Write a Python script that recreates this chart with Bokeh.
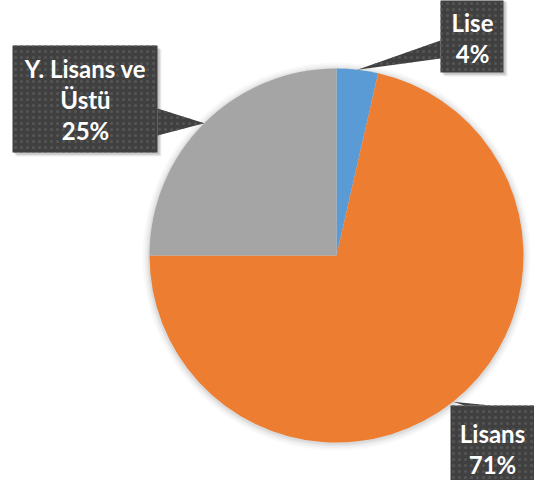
import math
import textwrap
from bokeh.plotting import figure
from bokeh.models import Range1d, ColumnDataSource
from bokeh.core.properties import value
from bokeh.embed import file_html
from bokeh.resources import INLINE

# ---- data ----
categories = ["Lise", "Lisans", "Y. Lisans ve Üstü"]
counts = [1, 20, 7]
colors = ["#5B9BD5", "#ED7D31", "#A5A5A5"]

# ---- layout (pixels of the picture) ----
W, H = 534, 480
CX, CY, R = 336, 255, 187
# label boxes: left, right, top, bottom, text center x, first line y, pointer base
boxes = {
    "Lise": dict(l=440, r=503, t=-2, b=72, tx=472, ty=22,
                 base=[(440, 40), (440, 58)]),
    "Lisans": dict(l=450, r=540, t=405, b=481, tx=492, ty=433,
                   base=[(464, 405), (490, 405)]),
    "Y. Lisans ve Üstü": dict(l=12, r=157, t=45, b=152, tx=85, ty=68,
                              base=[(157, 108), (157, 135)]),
}
LINE_H = 31


def Y(sy):
    return H - sy


p = figure(width=W, height=H, output_backend="svg", toolbar_location=None,
           x_range=Range1d(0, W), y_range=Range1d(0, H),
           min_border=0, outline_line_color=None)
p.axis.visible = False
p.grid.visible = False
p.background_fill_color = "white"
p.border_fill_color = "white"

total = sum(counts)
cum = 0.0
starts, ends, mids = [], [], []
for c in counts:
    c0 = cum / total
    cum += c
    c1 = cum / total
    starts.append(math.pi / 2 - 2 * math.pi * c1)
    ends.append(math.pi / 2 - 2 * math.pi * c0)
    mids.append(math.pi / 2 - 2 * math.pi * (c0 + c1) / 2)

# soft pie shadow
for k, a in [(7, 0.025), (5, 0.03), (3, 0.04), (1.5, 0.05)]:
    p.circle(x=CX, y=Y(CY) - 1, radius=R + k, fill_color="black",
             fill_alpha=a, line_color=None)

src = ColumnDataSource(dict(start=starts, end=ends, color=colors, cat=categories))
p.wedge(x=CX, y=Y(CY), radius=R, start_angle="start", end_angle="end",
        direction="anticlock", fill_color="color", line_color=None, source=src)

for cat, cnt, ang in zip(categories, counts, mids):
    bx = boxes[cat]
    tip = (CX + R * math.cos(ang), Y(CY) + R * math.sin(ang))
    # shadow
    for off, a in [(4, 0.06), (3, 0.08), (2, 0.1)]:
        p.quad(left=bx["l"] + off, right=bx["r"] + off, top=Y(bx["t"]) - off,
               bottom=Y(bx["b"]) - off, fill_color="black", fill_alpha=a,
               line_color=None)
    p.quad(left=bx["l"], right=bx["r"], top=Y(bx["t"]), bottom=Y(bx["b"]),
           fill_color="#404040", line_color=None,
           hatch_pattern="dot", hatch_color="#555555", hatch_scale=6,
           hatch_weight=1.2)
    (b1x, b1y), (b2x, b2y) = bx["base"]
    p.patch(x=[b1x, tip[0], b2x], y=[Y(b1y), tip[1], Y(b2y)],
            fill_color="#404040", line_color=None,
            hatch_pattern="dot", hatch_color="#555555", hatch_scale=6,
            hatch_weight=1.2)
    pct = round(100 * cnt / total)
    lines = textwrap.wrap(cat, 12) + [f"{pct}%"]
    ys = [Y(bx["ty"] + i * LINE_H) for i in range(len(lines))]
    p.text(x=[bx["tx"]] * len(lines), y=ys, text=lines,
           text_align="center", text_baseline="middle",
           text_font=value("Lato"), text_font_style="bold",
           text_font_size="24px", text_color="white")

open("out.html", "w").write(file_html(p, INLINE))
